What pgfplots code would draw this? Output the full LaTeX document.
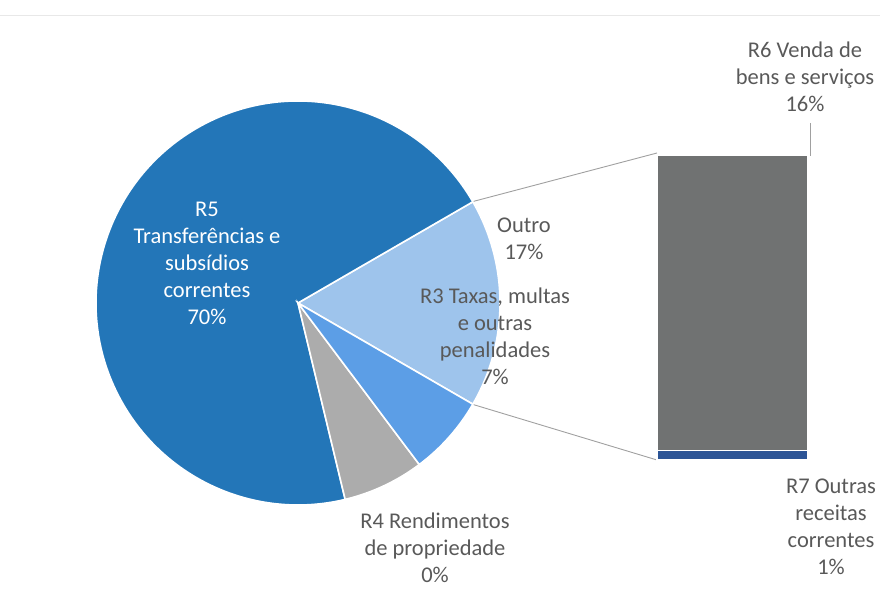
\documentclass[border=0pt]{standalone}
\usepackage{pgfplots}
\pgfplotsset{compat=1.18}
\usepackage{fontspec}
\setmainfont{Carlito}
\definecolor{cRfive}{RGB}{35,118,184}
\definecolor{cRfour}{RGB}{172,172,172}
\definecolor{cRthree}{RGB}{92,158,230}
\definecolor{cOut}{RGB}{158,196,236}
\definecolor{cRsix}{RGB}{112,114,114}
\definecolor{cRseven}{RGB}{44,84,150}
\definecolor{cTxt}{RGB}{89,89,89}
\definecolor{cLine}{RGB}{160,160,160}
% values (percent)
\def\vRfive{70.4}
\def\vRfour{6.5}
\def\vRthree{6.4}
\def\vRsix{16.2}
\def\vRseven{0.5}
\begin{document}
\begin{tikzpicture}
\pgfmathsetmacro{\vOut}{\vRsix+\vRseven}
\pgfmathsetmacro{\aS}{-\vOut*1.8}
\pgfmathsetmacro{\aA}{\vOut*1.8}
\pgfmathsetmacro{\aB}{\aA+\vRfive*3.6}
\pgfmathsetmacro{\aC}{\aB+\vRfour*3.6}
\pgfmathsetmacro{\aD}{\aC+\vRthree*3.6}
\begin{axis}[at={(0,0)},anchor=south west,width=880pt,height=589pt,scale only axis,
  xmin=0,xmax=880,ymin=0,ymax=589,axis lines=none,clip=false]
  \draw[color={rgb,255:red,232;green,232;blue,232},line width=0.8pt] (axis cs:0,574) -- (axis cs:880,574);
  \fill[cOut,draw=white,line width=1.6pt] (axis cs:298,286) -- ++(\aS:202pt) arc[start angle=\aS,end angle=\aA,radius=202pt] -- cycle;
  \fill[cRfive,draw=white,line width=1.6pt] (axis cs:298,286) -- ++(\aA:202pt) arc[start angle=\aA,end angle=\aB,radius=202pt] -- cycle;
  \fill[cRfour,draw=white,line width=1.6pt] (axis cs:298,286) -- ++(\aB:202pt) arc[start angle=\aB,end angle=\aC,radius=202pt] -- cycle;
  \fill[cRthree,draw=white,line width=1.6pt] (axis cs:298,286) -- ++(\aC:202pt) arc[start angle=\aC,end angle=\aD,radius=202pt] -- cycle;
  % connector lines
  \draw[cLine,line width=0.9pt] (axis cs:298,286) ++(\aA:203pt) -- (axis cs:657,436);
  \draw[cLine,line width=0.9pt] (axis cs:298,286) ++(\aS:203pt) -- (axis cs:657,129);
  \draw[cLine,line width=0.9pt] (axis cs:810,466) -- (axis cs:810,433);
  % labels
  \begin{scope}[every node/.style={align=center,font=\fontsize{22.5}{27}\selectfont}]
  \node[white] at (axis cs:207,326) {R5\\Transferências e\\subsídios\\correntes\\70\%};
  \node[cTxt] at (axis cs:524,350) {Outro\\17\%};
  \node[cTxt] at (axis cs:495,253) {R3 Taxas, multas\\e outras\\penalidades\\7\%};
  \node[cTxt] at (axis cs:435,41) {R4 Rendimentos\\de propriedade\\0\%};
  \node[cTxt] at (axis cs:805,512) {R6 Venda de\\bens e serviços\\16\%};
  \node[cTxt] at (axis cs:831,62) {R7 Outras\\receitas\\correntes\\1\%};
  \end{scope}
\end{axis}
\begin{axis}[at={(0,0)},anchor=south west,width=880pt,height=589pt,scale only axis,
  xmin=0,xmax=880,ymin=-7.063,ymax=25.187,axis lines=none,clip=false,
  ybar stacked,bar width=151]
  \addplot[fill=cRseven,draw=white,line width=1.2pt] coordinates {(732.5,\vRseven)};
  \addplot[fill=cRsix,draw=white,line width=1.2pt] coordinates {(732.5,\vRsix)};
\end{axis}
\pgfresetboundingbox
\path[use as bounding box] (0,0) rectangle (880pt,589pt);
\end{tikzpicture}
\end{document}
